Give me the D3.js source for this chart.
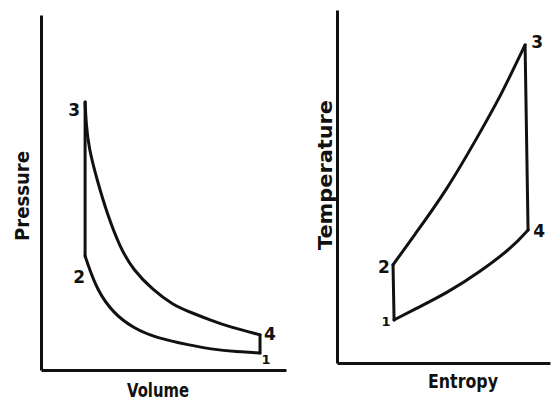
<!DOCTYPE html>
<html>
<head>
<meta charset="utf-8">
<script src="https://cdn.jsdelivr.net/npm/d3@7"></script>
<style>
  body { margin: 0; background: #fff; }
  text { font-family: "DejaVu Sans", sans-serif; font-weight: bold; fill: #111; }
</style>
</head>
<body>
<div id="chart"></div>
<script>
// Otto cycle, P-V diagram (arbitrary units 0..10)
var compressionPV = [ // 1 -> 2
  [8.94, 0.48], [8.00, 0.51], [6.90, 0.59], [6.08, 0.70], [4.73, 0.90],
  [3.76, 1.18], [2.94, 1.61], [2.29, 2.25], [1.88, 3.04], [1.80, 3.21]
];
var expansionPV = [ // 3 -> 4
  [1.80, 7.55], [1.84, 6.95], [1.95, 6.25], [2.29, 5.35], [2.69, 4.42],
  [3.22, 3.46], [3.76, 2.82], [4.57, 2.25], [5.39, 1.83], [6.08, 1.63],
  [6.90, 1.41], [7.71, 1.21], [8.94, 0.99]
];

// T-S diagram (arbitrary units 0..10)
var compressionTS = [[2.68, 1.22], [2.63, 2.78]]; // 1 -> 2
var heatAddTS = [ // 2 -> 3
  [2.63, 2.78], [3.57, 3.57], [5.16, 4.90], [6.71, 6.52],
  [7.65, 7.54], [8.26, 8.30], [8.83, 9.01]
];
var expansionTS = [[8.83, 9.01], [8.97, 3.77]]; // 3 -> 4
var heatRejectTS = [ // 4 -> 1
  [8.97, 3.77], [8.26, 3.29], [6.71, 2.58], [5.16, 1.98], [3.57, 1.50], [2.68, 1.22]
];

var pointLabelsPV = ["1", "2", "3", "4"];
var pointLabelsTS = ["1", "2", "3", "4"];

var svg = d3.select("#chart").append("svg")
  .attr("width", 552)
  .attr("height", 407);

var ink = "#111";

function drawPanel(cfg) {
  var x = d3.scaleLinear().domain([0, 10]).range(cfg.xr);
  var y = d3.scaleLinear().domain([0, 10]).range(cfg.yr);
  var g = svg.append("g");

  // axes without ticks, just the frame lines
  g.append("g")
    .attr("transform", "translate(0," + cfg.yr[0] + ")")
    .call(d3.axisBottom(x).ticks(0).tickSizeOuter(0));
  g.append("g")
    .attr("transform", "translate(" + cfg.xr[0] + ",0)")
    .call(d3.axisLeft(y).ticks(0).tickSizeOuter(0));
  g.selectAll(".domain")
    .attr("stroke", ink)
    .attr("stroke-width", 3);

  // basis spline smooths the hand-read points, still hits both ends
  var line = d3.line()
    .x(function (d) { return x(d[0]); })
    .y(function (d) { return y(d[1]); })
    .curve(d3.curveBasis);

  cfg.paths.forEach(function (p) {
    g.append("path")
      .attr("d", line(p))
      .attr("fill", "none")
      .attr("stroke", ink)
      .attr("stroke-width", 3)
      .attr("stroke-linecap", "round")
      .attr("stroke-linejoin", "round");
  });

  // state point numbers
  cfg.labels.forEach(function (l) {
    g.append("text")
      .attr("x", x(l.p[0]) + l.dx)
      .attr("y", y(l.p[1]) + l.dy)
      .attr("text-anchor", "middle")
      .attr("font-size", l.size || 17)
      .text(l.t);
  });

  // axis titles
  g.append("text")
    .attr("x", cfg.xTitle[0])
    .attr("y", cfg.xTitle[1])
    .attr("text-anchor", "middle")
    .attr("font-size", 19)
    .attr("textLength", cfg.xTitle[2])
    .attr("lengthAdjust", "spacingAndGlyphs")
    .text(cfg.xLabel);
  g.append("text")
    .attr("transform", "translate(" + cfg.yTitle[0] + "," + cfg.yTitle[1] + ") rotate(-90)")
    .attr("text-anchor", "middle")
    .attr("font-size", 19)
    .attr("textLength", cfg.yTitle[2])
    .attr("lengthAdjust", "spacingAndGlyphs")
    .text(cfg.yLabel);
}

// pressure-volume
drawPanel({
  xr: [41, 286], yr: [370, 15],
  paths: [
    compressionPV,
    [compressionPV[compressionPV.length - 1], expansionPV[0]],
    expansionPV,
    [expansionPV[expansionPV.length - 1], compressionPV[0]]
  ],
  labels: [
    { t: pointLabelsPV[0], p: compressionPV[0], dx: 6, dy: 11, size: 13 },
    { t: pointLabelsPV[1], p: compressionPV[compressionPV.length - 1], dx: -6, dy: 27 },
    { t: pointLabelsPV[2], p: expansionPV[0], dx: -11, dy: 14 },
    { t: pointLabelsPV[3], p: expansionPV[expansionPV.length - 1], dx: 10, dy: 5 }
  ],
  xLabel: "Volume", xTitle: [158, 397, 62],
  yLabel: "Pressure", yTitle: [29, 196, 90]
});

// temperature-entropy
drawPanel({
  xr: [337, 550], yr: [363, 10],
  paths: [compressionTS, heatAddTS, expansionTS, heatRejectTS],
  labels: [
    { t: pointLabelsTS[0], p: compressionTS[0], dx: -8, dy: 6, size: 13 },
    { t: pointLabelsTS[1], p: compressionTS[1], dx: -9, dy: 8 },
    { t: pointLabelsTS[2], p: heatAddTS[heatAddTS.length - 1], dx: 12, dy: 3 },
    { t: pointLabelsTS[3], p: heatRejectTS[0], dx: 11, dy: 7 }
  ],
  xLabel: "Entropy", xTitle: [463, 388, 70],
  yLabel: "Temperature", yTitle: [332, 175, 150]
});
</script>
</body>
</html>
